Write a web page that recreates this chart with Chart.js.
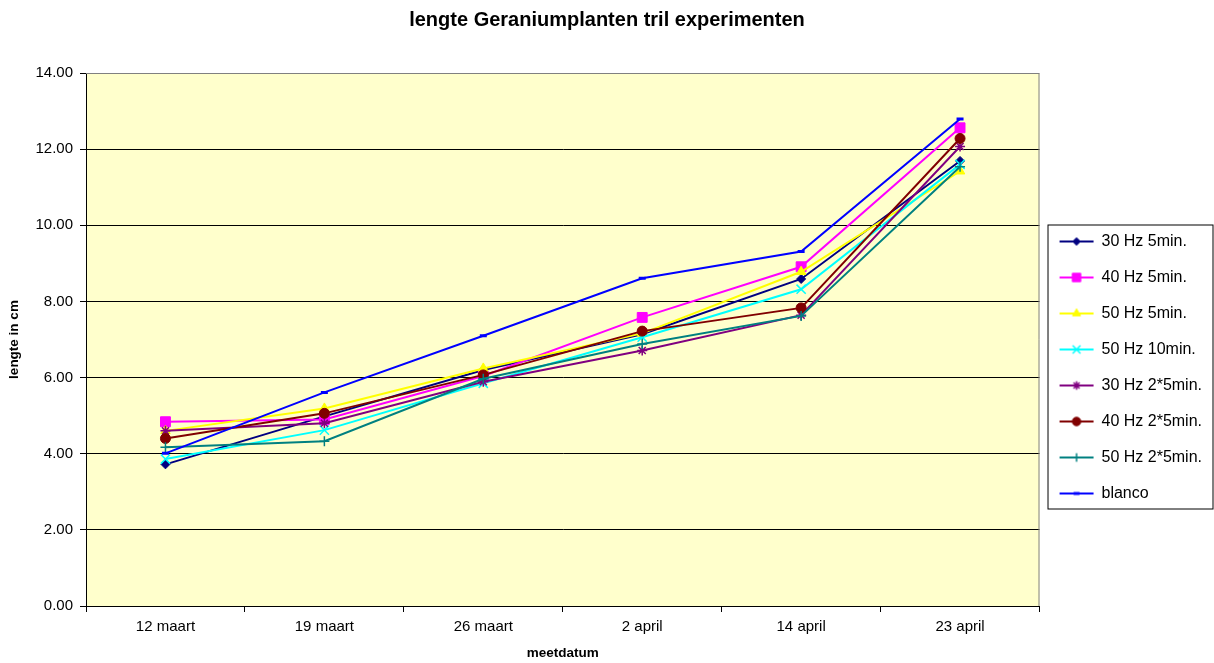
<!DOCTYPE html>
<html>
<head>
<meta charset="utf-8">
<script src="https://cdn.jsdelivr.net/npm/chart.js@4/dist/chart.umd.min.js"></script>
<style>
  html, body { margin: 0; padding: 0; background: #fff; }
  #wrap { width: 1214px; height: 663px; }
</style>
</head>
<body>
<div id="wrap"><canvas id="myChart" width="1214" height="663"></canvas></div>
<script>
// meetdata (lengte in cm)
var dates = ['12 maart', '19 maart', '26 maart', '2 april', '14 april', '23 april'];
var seriesNames = ['30 Hz 5min.', '40 Hz 5min.', '50 Hz 5min.', '50 Hz 10min.',
                   '30 Hz 2*5min.', '40 Hz 2*5min.', '50 Hz 2*5min.', 'blanco'];
var hz30_5   = [3.72, 4.98, 6.20, 7.14, 8.59, 11.69];
var hz40_5   = [4.84, 4.90, 6.04, 7.58, 8.91, 12.56];
var hz50_5   = [4.60, 5.19, 6.24, 7.16, 8.78, 11.42];
var hz50_10  = [3.86, 4.62, 5.85, 7.06, 8.32, 11.60];
var hz30_2x5 = [4.60, 4.80, 5.89, 6.71, 7.64, 12.07];
var hz40_2x5 = [4.40, 5.06, 6.07, 7.22, 7.83, 12.28];
var hz50_2x5 = [4.17, 4.33, 5.97, 6.88, 7.62, 11.54];
var blanco   = [4.01, 5.61, 7.10, 8.61, 9.31, 12.79];
var yTicks = [0, 2, 4, 6, 8, 10, 12, 14];

var allValues = [hz30_5, hz40_5, hz50_5, hz50_10, hz30_2x5, hz40_2x5, hz50_2x5, blanco];
var colors = ['#000080', '#FF00FF', '#FFFF00', '#00FFFF', '#800080', '#800000', '#008080', '#0000FF'];
var markers = ['rectRot', 'rect', 'triangle', 'crossRot', 'star', 'circle', 'cross', 'line'];
var radii = [4.5, 7, 5.5, 6.5, 5, 5, 5, 3.5];
var markerLine = [1, 1, 1, 1.5, 1.5, 1, 1.5, 3];

var font = 'Liberation Sans, Arial, sans-serif';

// legend icon: short line with the marker in the middle
function legendIcon(i) {
    var c = document.createElement('canvas');
    c.width = 36;
    c.height = 16;
    var cx = c.getContext('2d');
    cx.strokeStyle = colors[i];
    cx.lineWidth = 2;
    cx.beginPath();
    cx.moveTo(1, 8);
    cx.lineTo(35, 8);
    cx.stroke();
    cx.fillStyle = colors[i];
    cx.lineWidth = markerLine[i];
    if (Chart.helpers && Chart.helpers.drawPoint) {
        Chart.helpers.drawPoint(cx, {pointStyle: markers[i], radius: radii[i] * 0.85, rotation: 0, borderWidth: markerLine[i]}, 18, 8);
    }
    return c;
}

var datasets = [];
for (var i = 0; i < seriesNames.length; i++) {
    datasets.push({
        label: seriesNames[i],
        data: allValues[i],
        borderColor: colors[i],
        backgroundColor: colors[i],
        borderWidth: 2,
        pointStyle: markers[i],
        pointRadius: radii[i],
        pointHoverRadius: radii[i],
        pointBorderWidth: markerLine[i],
        pointBackgroundColor: colors[i],
        pointBorderColor: colors[i],
        tension: 0,
        order: seriesNames.length - i   // later series on top, like the original
    });
}

// plot background + grey frame + legend frame
var plotArea = {
    id: 'plotArea',
    beforeDraw: function (chart) {
        var a = chart.chartArea, ctx = chart.ctx;
        ctx.save();
        ctx.fillStyle = '#FFFFCC';
        ctx.fillRect(a.left, a.top, a.right - a.left, a.bottom - a.top);
        ctx.restore();
    },
    afterDraw: function (chart) {
        var a = chart.chartArea, ctx = chart.ctx;
        ctx.save();
        ctx.strokeStyle = '#808080';
        ctx.lineWidth = 1;
        ctx.beginPath();
        ctx.moveTo(a.left, a.top + 0.5);
        ctx.lineTo(a.right - 0.5, a.top + 0.5);
        ctx.lineTo(a.right - 0.5, a.bottom);
        ctx.stroke();
        var boxes = chart.legend.legendHitBoxes;
        if (boxes && boxes.length) {
            var last = boxes[boxes.length - 1];
            var top = boxes[0].top - 9;
            var bottom = last.top + last.height + 7;
            var left = boxes[0].left - 12;
            var right = chart.width - 1.5;
            ctx.strokeStyle = '#000';
            ctx.strokeRect(left + 0.5, top + 0.5, right - left, bottom - top);
        }
        ctx.restore();
    }
};

var ctx = document.getElementById('myChart').getContext('2d');
var chart = new Chart(ctx, {
    type: 'line',
    data: {
        labels: dates,
        datasets: datasets
    },
    plugins: [plotArea],
    options: {
        responsive: false,
        animation: false,
        events: [],
        layout: { padding: { left: 2, right: 2, top: 0, bottom: 0 } },
        plugins: {
            title: {
                display: true,
                text: 'lengte Geraniumplanten tril experimenten',
                color: '#000',
                font: { family: font, size: 20, weight: 'bold' },
                padding: { top: 8, bottom: 41 }
            },
            legend: {
                position: 'right',
                align: 'center',
                title: { display: true, text: '', font: { size: 10 }, padding: { top: 60, bottom: 0 } },
                labels: {
                    usePointStyle: true,
                    pointStyleWidth: 34,
                    padding: 20,
                    color: '#000',
                    font: { family: font, size: 16 },
                    generateLabels: function (chart) {
                        return chart.data.datasets.map(function (ds, i) {
                            return {
                                text: ds.label,
                                fillStyle: colors[i],
                                strokeStyle: colors[i],
                                fontColor: '#000',
                                lineWidth: 0,
                                pointStyle: legendIcon(i),
                                hidden: false,
                                datasetIndex: i
                            };
                        });
                    }
                }
            },
            tooltip: { enabled: false }
        },
        scales: {
            x: {
                offset: true,
                grid: {
                    display: true,
                    drawOnChartArea: false,
                    drawTicks: true,
                    tickLength: 6,
                    offset: true,
                    color: '#000',
                    tickColor: '#000'
                },
                border: { display: true, color: '#000', width: 1 },
                ticks: {
                    color: '#000',
                    padding: 6,
                    maxRotation: 0,
                    font: { family: font, size: 15 }
                },
                title: {
                    display: true,
                    text: 'meetdatum',
                    color: '#000',
                    font: { family: font, size: 13.5, weight: 'bold' },
                    padding: { top: 6, bottom: 2 }
                },
                afterFit: function (scale) { scale.height = 57; }
            },
            y: {
                min: 0,
                max: 14,
                afterBuildTicks: function (scale) {
                    scale.ticks = yTicks.map(function (v) { return { value: v }; });
                },
                grid: {
                    color: function (c) { return c.tick && c.tick.value === 14 ? '#808080' : '#000'; },
                    tickColor: '#000',
                    tickLength: 6,
                    lineWidth: 1
                },
                border: { display: true, color: '#000', width: 1 },
                ticks: {
                    color: '#000',
                    padding: 7,
                    font: { family: font, size: 15 },
                    callback: function (v) { return Number(v).toFixed(2); }
                },
                title: {
                    display: true,
                    text: 'lengte in cm',
                    color: '#000',
                    font: { family: font, size: 13.5, weight: 'bold' },
                    padding: { top: 4, bottom: 4 }
                },
                afterFit: function (scale) { scale.width = 84; }
            }
        }
    }
});
</script>
</body>
</html>
